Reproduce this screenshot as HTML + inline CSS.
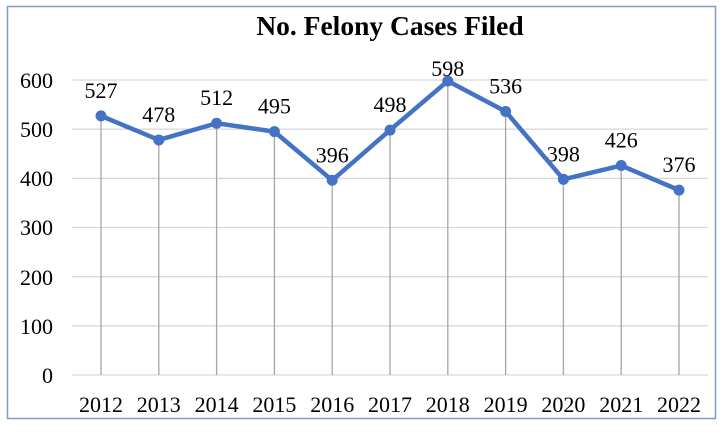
<!DOCTYPE html><html><head><style>body{margin:0;background:#fff}</style></head><body>
<svg width="726" height="428" xmlns="http://www.w3.org/2000/svg" font-family="Liberation Serif, serif">
<rect x="0" y="0" width="726" height="428" fill="#fff"/>
<rect x="7.5" y="6.5" width="708" height="412" fill="none" stroke="#7f9cc8" stroke-width="1.5"/>
<text x="390" y="35" font-size="27.5" font-weight="bold" text-anchor="middle">No. Felony Cases Filed</text>
<g stroke="#d9d9d9" stroke-width="1.3">
<line x1="72" x2="708" y1="80" y2="80"/><line x1="72" x2="708" y1="129.2" y2="129.2"/><line x1="72" x2="708" y1="178.3" y2="178.3"/><line x1="72" x2="708" y1="227.5" y2="227.5"/><line x1="72" x2="708" y1="276.7" y2="276.7"/><line x1="72" x2="708" y1="325.8" y2="325.8"/><line x1="72" x2="708" y1="375" y2="375"/>
</g>
<g font-size="22" text-anchor="end">
<text x="53" y="88">600</text><text x="53" y="137">500</text><text x="53" y="186">400</text><text x="53" y="235">300</text><text x="53" y="285">200</text><text x="53" y="334">100</text><text x="53" y="383">0</text>
</g>
<g id="d" stroke="#a6a6a6" stroke-width="1.3"></g>
<script>
var v=[527,478,512,495,396,498,598,536,398,426,376];
var ns="http://www.w3.org/2000/svg",s=document.querySelector('svg'),g=document.getElementById('d');
var pts=[];
v.forEach(function(val,i){var x=101+i*57.8,y=375-val*0.4917;pts.push(x+','+y);
var l=document.createElementNS(ns,'line');l.setAttribute('x1',x);l.setAttribute('x2',x);l.setAttribute('y1',y);l.setAttribute('y2',375);g.appendChild(l);
var t=document.createElementNS(ns,'text');t.setAttribute('x',x);t.setAttribute('y',val==598?76:y-18);t.setAttribute('font-size','22');t.setAttribute('text-anchor','middle');t.textContent=val;s.appendChild(t);
var t2=document.createElementNS(ns,'text');t2.setAttribute('x',x);t2.setAttribute('y',412);t2.setAttribute('font-size','22');t2.setAttribute('text-anchor','middle');t2.textContent=2012+i;s.appendChild(t2);});
var p=document.createElementNS(ns,'polyline');p.setAttribute('points',pts.join(' '));p.setAttribute('fill','none');p.setAttribute('stroke','#4472c4');p.setAttribute('stroke-width','4.5');p.setAttribute('stroke-linejoin','round');s.appendChild(p);
pts.forEach(function(q){var c=document.createElementNS(ns,'circle');var a=q.split(',');c.setAttribute('cx',a[0]);c.setAttribute('cy',a[1]);c.setAttribute('r','5.5');c.setAttribute('fill','#4472c4');s.appendChild(c);});
</script>
</svg>
</body></html>
